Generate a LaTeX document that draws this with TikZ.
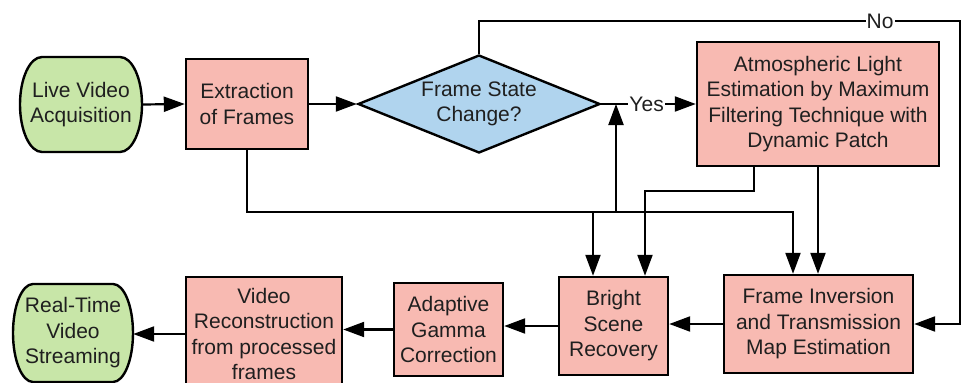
\documentclass[tikz,border=0pt]{standalone}
\usepackage{fontspec}
\setmainfont{Liberation Sans}
\usetikzlibrary{arrows.meta,shapes.geometric}
\definecolor{termgreen}{RGB}{200,230,168}
\definecolor{procpink}{RGB}{248,186,178}
\definecolor{decblue}{RGB}{176,212,238}
\tikzset{
  every node/.style={font=\fontsize{21}{25.5}\selectfont, text=black!88},
  base/.style={draw=black, line width=2.4pt, align=center, inner sep=2pt},
  termtext/.style={align=center, inner sep=2pt},
  termshape/.style={draw=black, line width=2.4pt, fill=termgreen},
  proc/.style={base, fill=procpink},
  dec/.style={base, fill=decblue, diamond, aspect=2.47, inner sep=0pt},
  conn/.style={line width=2.2pt, draw=black},
  arr/.style={conn, -{Triangle[length=21pt,width=15pt]}},
  lbl/.style={fill=white, inner sep=1pt},
}
\begin{document}
\begin{tikzpicture}[x=1pt,y=-1pt]
\useasboundingbox (0,0) rectangle (962,383);
\fill[white] (0,0) rectangle (962,383);

% terminal shapes (drawn first, text on top)
\coordinate (liveC) at (81,104.5);
\coordinate (rtC) at (73,333);
\path[termshape] ([shift={(-39pt,47.5pt)}]liveC) -- ([shift={(39pt,47.5pt)}]liveC)
  arc[start angle=90, end angle=-90, x radius=22pt, y radius=47.5pt]
  -- ([shift={(-39pt,-47.5pt)}]liveC)
  arc[start angle=270, end angle=90, x radius=22pt, y radius=47.5pt] -- cycle;
\path[termshape] ([shift={(-40pt,49pt)}]rtC) -- ([shift={(40pt,49pt)}]rtC)
  arc[start angle=90, end angle=-90, x radius=20pt, y radius=49pt]
  -- ([shift={(-40pt,-49pt)}]rtC)
  arc[start angle=270, end angle=90, x radius=20pt, y radius=49pt] -- cycle;

\node[termtext, minimum width=122pt, minimum height=95pt] (live) at (liveC) {Live Video\\Acquisition};
\node[proc, minimum width=122pt, minimum height=90pt] (extr) at (247,104) {Extraction\\of Frames};
\node[dec, minimum width=242pt, minimum height=98pt] (dia) at (479,104) {Frame State\\Change?};
\node[proc, minimum width=242pt, minimum height=124pt] (atm) at (818,104) {Atmospheric Light\\Estimation by Maximum\\Filtering Technique with\\Dynamic Patch};
\node[proc, minimum width=189pt, minimum height=98pt] (fi) at (818.5,324) {Frame Inversion\\and Transmission\\Map Estimation};
\node[proc, minimum width=109pt, minimum height=98pt] (br) at (613.5,326) {Bright\\Scene\\Recovery};
\node[proc, minimum width=109pt, minimum height=93pt] (ag) at (448.5,329.5) {Adaptive\\Gamma\\Correction};
\node[proc, minimum width=156pt, minimum height=114pt] (vr) at (264,334) {Video\\Reconstruction\\from processed\\frames};
\node[termtext, minimum width=120pt, minimum height=98pt] (rt) at (rtC) {Real-Time\\Video\\Streaming};

\coordinate (bus) at (0,212);
\coordinate (ntop) at (960,21);
\coordinate (yesj) at (616,104);
\coordinate (atmj) at (0,191);

% top row
\draw[arr] (live.east) -- (extr.west);
\draw[arr] (extr.east) -- (dia.west);
\draw[arr] (dia.east) -- node[lbl, pos=0.48]{Yes} (atm.west);
\draw[arr] (dia.north) -- (dia.north |- ntop) -- node[lbl, pos=0.834]{No} (ntop) -- (ntop |- fi.east) -- (fi.east);

% bus from extraction
\draw[arr] (extr.south) |- ([xshift=-25.5pt]fi.north |- bus) -- ([xshift=-25.5pt]fi.north);
\draw[arr] ([xshift=-20.5pt]br.north |- bus) -- ([xshift=-20.5pt]br.north);
\draw[arr] (yesj |- bus) -- (yesj);

% from atmospheric light
\draw[arr] ([xshift=-64pt]atm.south) |- ([xshift=31.5pt]br.north |- atmj) -- ([xshift=31.5pt]br.north);
\draw[arr] (atm.south) -- (atm.south |- fi.north);

% bottom row
\draw[arr] (fi.west) -- (fi.west -| br.east);
\draw[arr] (br.west) -- (br.west -| ag.east);
\draw[arr] (ag.west) -- (ag.west -| vr.east);
\draw[arr] (vr.west) -- (vr.west -| rt.east);
\end{tikzpicture}
\end{document}
